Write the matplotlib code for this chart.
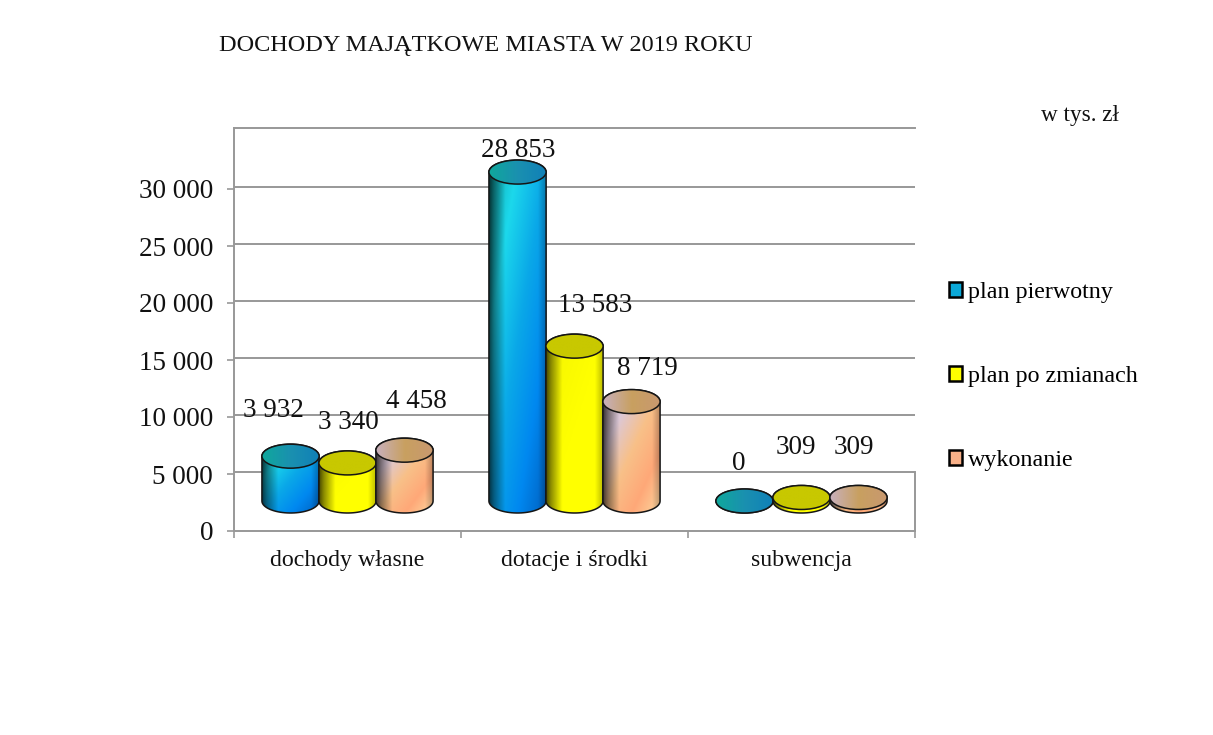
import matplotlib
matplotlib.use('Agg')
import matplotlib.pyplot as plt
from matplotlib.colors import LinearSegmentedColormap
from matplotlib.patches import Ellipse, PathPatch, Patch
from matplotlib.path import Path
import numpy as np

categories = ['dochody własne', 'dotacje i środki', 'subwencja']
series_names = ['plan pierwotny', 'plan po zmianach', 'wykonanie']
plan_pierwotny = [3932, 28853, 0]
plan_po_zmianach = [3340, 13583, 309]
wykonanie = [4458, 8719, 309]
y_ticks = [0, 5000, 10000, 15000, 20000, 25000, 30000]

# label offsets from the top of each bar, in pixels
offsets = [[(-17, 46), (1, 40), (12, 49)],
           [(1, 22), (21, 41), (16, 33)],
           [(-6, 37), (-6, 50), (-5, 50)]]

W, H = 1213, 735
plt.rcParams['font.family'] = ['Liberation Serif', 'DejaVu Serif']

body_maps = [
    LinearSegmentedColormap.from_list('b', ['#0fa8a8', '#1cd8ec', '#0aa8e8', '#0088f0', '#0060c0']),
    LinearSegmentedColormap.from_list('y', ['#f4f400', '#ffff00', '#ffff00']),
    LinearSegmentedColormap.from_list('t', ['#c0aab0', '#dcc8d8', '#f8c088', '#ffa878', '#fcd8a0']),
]
top_maps = [
    LinearSegmentedColormap.from_list('bt', ['#10a89c', '#1a90b0', '#1080b8']),
    LinearSegmentedColormap.from_list('yt', ['#c8c800', '#c8c800']),
    LinearSegmentedColormap.from_list('tt', ['#c8b0bc', '#c8a060', '#c89870']),
]
legend_colors = ['#0aa8d8', '#ffff00', '#f8b088']


def fmt(v):
    return f'{v:,}'.replace(',', ' ')


def ellipse_pts(cx, cy, w, h, t0, t1):
    t = np.linspace(t0, t1, 40)
    return np.column_stack([cx + w / 2 * np.cos(t), cy + h / 2 * np.sin(t)])


def cylinder(ax, rect, s):
    x0, w = rect.get_x(), rect.get_width()
    y0, y1 = rect.get_y(), rect.get_y() + rect.get_height()
    cx = x0 + w / 2
    eh = 2105
    z = 4 + s * 0.1 + x0 * 0.01

    # side of the cylinder
    low = ellipse_pts(cx, y0, w, eh, np.pi, 2 * np.pi)
    up = ellipse_pts(cx, y1, w, eh, 0, np.pi)
    pts = np.vstack([low, up, low[:1]])
    codes = [Path.MOVETO] + [Path.LINETO] * (len(pts) - 2) + [Path.CLOSEPOLY]
    outline = PathPatch(Path(pts, codes), fc='none', ec='#151515', lw=1.1, zorder=z + 0.02)
    ax.add_patch(outline)

    xx, yy = np.meshgrid(np.linspace(0, 1, 80), np.linspace(0, 1, 200))
    rgba = body_maps[s](0.5 * xx + 0.5 * yy)
    shade = np.interp(xx, [0, 0.08, 0.28, 0.85, 1], [0.3, 0.55, 1, 1, 0.72])
    rgba[..., :3] *= shade[..., None]
    im = ax.imshow(rgba, extent=(x0, x0 + w, y0 - eh / 2, y1 + eh / 2), origin='upper',
                   aspect='auto', zorder=z, interpolation='bilinear')
    im.set_clip_path(outline)

    # top of the cylinder
    top = Ellipse((cx, y1), w, eh, fc='none', ec='#151515', lw=1.1, zorder=z + 0.04)
    ax.add_patch(top)
    grad = top_maps[s](np.linspace(0, 1, 80))[None, :, :]
    im2 = ax.imshow(grad, extent=(x0, x0 + w, y1 - eh / 2, y1 + eh / 2),
                    aspect='auto', zorder=z + 0.03, interpolation='bilinear')
    im2.set_clip_path(top)


fig = plt.figure(figsize=(W / 100, H / 100), dpi=100)
ax = fig.add_axes([234 / W, 1 - 531 / H, (915 - 234) / W, (531 - 128) / H])
ymax = 403 / 57 * 5000
floor = 30 / 57 * 5000
grid_shift = 2.5 / 57 * 5000
bar_w = 0.252
grey = '#989898'

ax.hlines(np.array(y_ticks[1:]) + grid_shift, -0.5, 2.5, color=grey, lw=1.4, zorder=1)

x = np.arange(len(categories))
all_series = [plan_pierwotny, plan_po_zmianach, wykonanie]
for s, vals in enumerate(all_series):
    bars = ax.bar(x + (s - 1) * 0.251, vals, bar_w, bottom=floor, color='none', edgecolor='none')
    for i, rect in enumerate(bars):
        cylinder(ax, rect, s)
        ax.annotate(fmt(vals[i]), xy=(rect.get_x() + bar_w / 2, floor + vals[i]),
                    xytext=offsets[i][s], textcoords='offset pixels',
                    ha='center', va='center', fontsize=19.5, color='#111111', zorder=10)

ax.set_xlim(-0.5, 2.5)
ax.set_ylim(0, ymax)

ax.set_yticks(y_ticks)
ax.set_yticklabels([fmt(v) for v in y_ticks], fontsize=19.5, color='#111111')
ax.tick_params(axis='y', length=5, width=1.2, color=grey, pad=10)

ax.set_xticks(x)
ax.set_xticklabels(categories, fontsize=17.2, color='#111111')
ax.set_xticks([-0.5, 0.5, 1.5, 2.5], minor=True)
ax.tick_params(axis='x', which='major', length=0, pad=14)
ax.tick_params(axis='x', which='minor', length=5, width=1.2, color=grey)

for side in ['left', 'bottom', 'top', 'right']:
    ax.spines[side].set_color(grey)
    ax.spines[side].set_linewidth(1.4)
ax.spines['right'].set_bounds(0, 5000 + grid_shift)

handles = [Patch(fc=c, ec='black', lw=1.8) for c in legend_colors]
fig.legend(handles, series_names, loc='upper left', bbox_to_anchor=(949 / W, 1 - 282 / H),
           frameon=False, fontsize=17.3, handlelength=0.55, handleheight=0.55,
           handletextpad=0.25, labelspacing=2.62, borderpad=0, borderaxespad=0)

fig.text(219 / W, 1 - 46 / H, 'DOCHODY MAJĄTKOWE MIASTA W 2019 ROKU', fontsize=17.5,
         va='center', ha='left', color='#111111')
fig.text(1041 / W, 1 - 116 / H, 'w tys. zł', fontsize=16.7, va='center', ha='left', color='#111111')

fig.savefig('out.png', dpi=100, facecolor='white')
